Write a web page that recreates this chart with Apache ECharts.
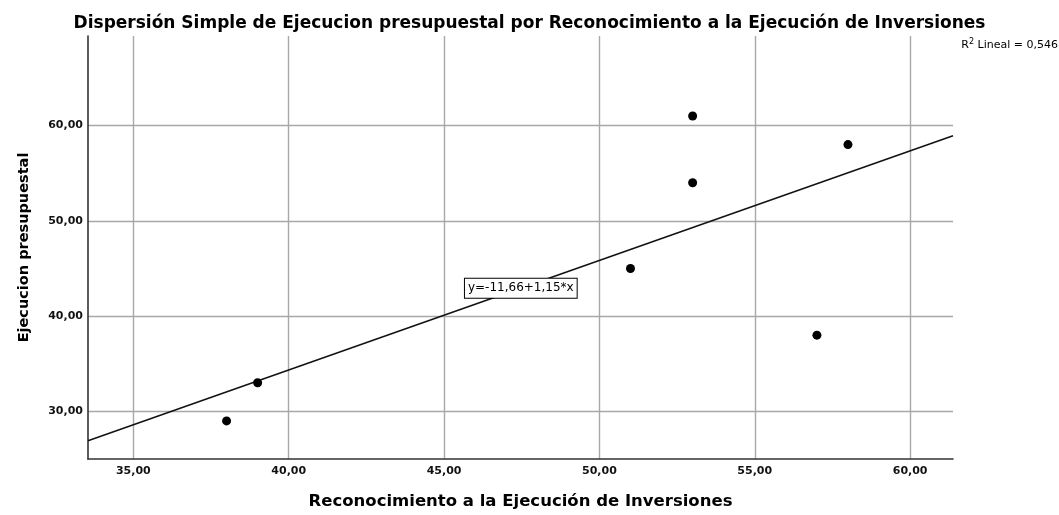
<!DOCTYPE html>
<html>
<head>
<meta charset="utf-8">
<script src="https://cdn.jsdelivr.net/npm/echarts@6/dist/echarts.min.js"></script>
<style>html,body{margin:0;padding:0;background:#fff}#c{width:1059px;height:515px}</style>
</head>
<body>
<div id="c"></div>
<script>
// Data
const reconocimiento = [38, 39, 51, 53, 53, 57, 58];
const ejecucion = [29, 33, 45, 54, 61, 38, 58];
const intercept = -11.66;
const slope = 1.15;
const r2 = '0,546';
const xTickLabels = ['35,00', '40,00', '45,00', '50,00', '55,00', '60,00'];
const yTickLabels = ['30,00', '40,00', '50,00', '60,00'];

const xMin = 33.54, xMax = 61.38, yMin = 25.0, yMax = 69.4;
const labelX = 47.47;
const fmt = v => v.toFixed(2).replace('.', ',');
const FONT = 'DejaVu Sans';

const chart = echarts.init(document.getElementById('c'), null, {renderer: 'canvas'});
chart.setOption({
  backgroundColor: '#fff',
  animation: false,
  title: {
    text: 'Dispersión Simple de Ejecucion presupuestal por Reconocimiento a la Ejecución de Inversiones',
    left: 'center', top: 10,
    textStyle: {fontFamily: FONT, fontWeight: 'bold', fontSize: 17, color: '#000'}
  },
  graphic: [{
    type: 'text', right: 1, top: 38,
    style: {
      text: '{a|R}{s|2}{a| Lineal = ' + r2 + '}',
      rich: {
        a: {fontFamily: FONT, fontSize: 11, color: '#000', verticalAlign: 'bottom'},
        s: {fontFamily: FONT, fontSize: 8, color: '#000', verticalAlign: 'top', padding: [0, 0, 5, 0]}
      }
    }
  }],
  grid: {left: 88, right: 106, top: 36, bottom: 51, containLabel: false},
  xAxis: {
    type: 'value', min: xMin, max: xMax, minInterval: 5, maxInterval: 5,
    name: 'Reconocimiento a la Ejecución de Inversiones',
    nameLocation: 'middle', nameGap: 34,
    nameTextStyle: {fontFamily: FONT, fontWeight: 'bold', fontSize: 16.5, color: '#000'},
    axisLine: {show: true, lineStyle: {color: '#333', width: 1.6}},
    axisTick: {show: false},
    axisLabel: {
      margin: 7, fontFamily: FONT, fontWeight: 'bold', fontSize: 11, color: '#111',
      showMinLabel: false, showMaxLabel: false,
      formatter: v => { const s = fmt(v); return xTickLabels.indexOf(s) >= 0 ? s : ''; }
    },
    splitLine: {show: true, showMinLine: false, showMaxLine: false, lineStyle: {color: '#a8a8a8', width: 1.4}}
  },
  yAxis: {
    type: 'value', min: yMin, max: yMax, minInterval: 10, maxInterval: 10,
    name: 'Ejecucion presupuestal',
    nameLocation: 'middle', nameGap: 56,
    nameTextStyle: {fontFamily: FONT, fontWeight: 'bold', fontSize: 14.5, color: '#000'},
    axisLine: {show: true, lineStyle: {color: '#333', width: 1.6}},
    axisTick: {show: false},
    axisLabel: {
      margin: 5, fontFamily: FONT, fontWeight: 'bold', fontSize: 11, color: '#111',
      showMinLabel: false, showMaxLabel: false,
      formatter: v => { const s = fmt(v); return yTickLabels.indexOf(s) >= 0 ? s : ''; }
    },
    splitLine: {show: true, showMinLine: false, showMaxLine: false, lineStyle: {color: '#a8a8a8', width: 1.4}}
  },
  series: [
    {
      type: 'line', silent: true, symbol: 'none', z: 3,
      lineStyle: {color: '#111', width: 1.5},
      data: [[xMin, intercept + slope * xMin], [xMax, intercept + slope * xMax]]
    },
    {
      type: 'scatter', silent: true, z: 5,
      symbol: 'circle', symbolSize: 9,
      itemStyle: {color: '#000', opacity: 1},
      data: reconocimiento.map((x, i) => [x, ejecucion[i]])
    },
    {
      type: 'scatter', silent: true, z: 6,
      symbolSize: 0.1, itemStyle: {color: 'rgba(0,0,0,0)', opacity: 1},
      label: {
        show: true, position: 'inside', opacity: 1,
        formatter: 'y=' + fmt(intercept) + '+' + fmt(slope) + '*x',
        fontFamily: FONT, fontSize: 12, color: '#000',
        backgroundColor: '#fff', borderColor: '#000', borderWidth: 1,
        padding: [4, 3, 3, 3]
      },
      data: [[labelX, intercept + slope * labelX]]
    }
  ]
});
</script>
</body>
</html>
